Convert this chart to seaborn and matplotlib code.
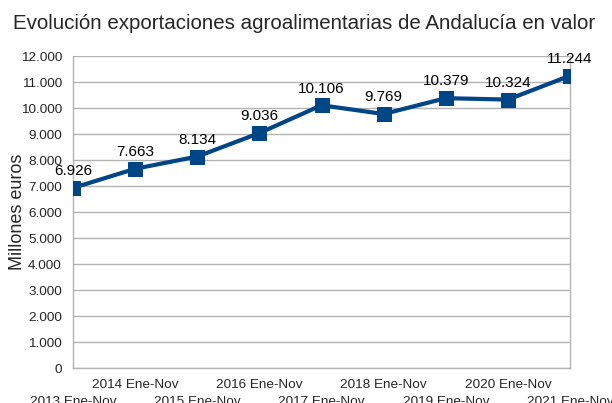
import pandas as pd
import matplotlib.pyplot as plt
import seaborn as sns

periodos = ["2013 Ene-Nov", "2014 Ene-Nov", "2015 Ene-Nov", "2016 Ene-Nov", "2017 Ene-Nov",
            "2018 Ene-Nov", "2019 Ene-Nov", "2020 Ene-Nov", "2021 Ene-Nov"]
valores = [6926, 7663, 8134, 9036, 10106, 9769, 10379, 10324, 11244]
etiquetas = ["6.926", "7.663", "8.134", "9.036", "10.106", "9.769", "10.379", "10.324", "11.244"]

sns.set_style("white")
plt.rcParams['font.family'] = ['Liberation Sans', 'DejaVu Sans']

df = pd.DataFrame({"x": range(len(periodos)), "valor": valores})

fig = plt.figure(figsize=(6.12, 4.03), dpi=100)
ax = fig.add_axes([0.1193, 0.0868, 0.8121, 0.7742])

ax.yaxis.grid(True, color="#b3b3b3", linewidth=1)
ax.set_axisbelow(True)
sns.lineplot(data=df, x="x", y="valor", ax=ax, color="#004586", linewidth=3,
             marker="s", markersize=9.5, markeredgecolor="#004586", zorder=3)

for i, (v, t) in enumerate(zip(valores, etiquetas)):
    ax.annotate(t, (i, v), xytext=(0, 7), textcoords="offset points",
                ha="center", va="bottom", fontsize=11, color="black")

ax.set_xlim(0, len(periodos) - 1)
ax.set_ylim(0, 12000)
ax.set_yticks(range(0, 12001, 1000))
ax.set_yticklabels([f"{v:,}".replace(",", ".") for v in range(0, 12001, 1000)], fontsize=9.7)
ax.set_xticks(range(len(periodos)))
ax.set_xticklabels(periodos, fontsize=9.7)
ax.tick_params(axis="both", length=5, color="#b3b3b3", direction="out", pad=3)

for s in ["left", "right", "bottom"]:
    ax.spines[s].set_color("#b3b3b3")
    ax.spines[s].set_linewidth(1)
ax.spines["top"].set_visible(False)

# etiquetas alternadas en dos filas
for i, tick in enumerate(ax.xaxis.get_major_ticks()):
    tick.set_pad(15 if i % 2 == 0 else 3)

ax.set_xlabel("")
ax.set_ylabel("Millones euros", fontsize=13)
ax.yaxis.set_label_coords(-0.095, 0.5)
fig.suptitle("Evolución exportaciones agroalimentarias de Andalucía en valor",
             fontsize=14.8, x=0.497, y=0.965)

fig.savefig("out.png", dpi=100)
